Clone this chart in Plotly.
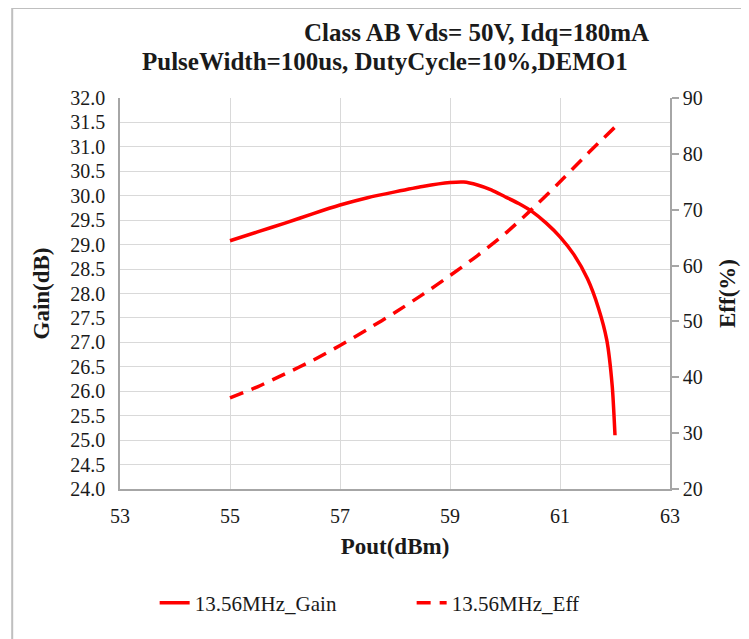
import plotly.graph_objects as go

# Data
gain_pout = [55.0, 55.5, 56.0, 56.5, 57.0, 57.5, 58.0, 58.5, 59.0, 59.25, 59.5, 59.75, 60.0, 60.25, 60.5, 60.75,
             61.0, 61.25, 61.5, 61.7, 61.85, 61.95, 62.0]
gain_db = [29.08, 29.26, 29.44, 29.63, 29.81, 29.96, 30.08, 30.19, 30.27, 30.28, 30.22, 30.12, 29.98, 29.84, 29.67, 29.44,
           29.16, 28.8, 28.3, 27.7, 27.05, 26.1, 25.1]

eff_pout = [55.0, 55.5, 56.0, 56.5, 57.0, 57.5, 58.0, 58.5, 59.0, 59.5, 60.0, 60.5, 61.0, 61.5, 62.0]
eff_pct = [36.3, 38.3, 40.6, 43.0, 45.7, 48.6, 51.6, 54.8, 58.2, 61.8, 65.7, 70.2, 75.0, 80.0, 84.8]

x_ticks = [53, 55, 57, 59, 61, 63]
gain_ticks = [24.0 + 0.5 * i for i in range(17)]
eff_ticks = [20, 30, 40, 50, 60, 70, 80, 90]

title_line1 = "Class AB Vds= 50V, Idq=180mA"
title_line2 = "PulseWidth=100us, DutyCycle=10%,DEMO1"

RED = "#ff0000"
SERIF = "Liberation Serif, Times New Roman, serif"
GRID = "#d9d9d9"
AXIS = "#a6a6a6"
TXT = "#1a1a1a"

fig = go.Figure()
fig.add_trace(go.Scatter(
    x=gain_pout, y=gain_db, name="13.56MHz_Gain", mode="lines",
    line=dict(color=RED, width=3.5, shape="spline", smoothing=0.6),
))
fig.add_trace(go.Scatter(
    x=eff_pout, y=eff_pct, name="13.56MHz_Eff", mode="lines", yaxis="y2",
    line=dict(color=RED, width=3.5, dash="14px,9px", shape="spline", smoothing=0.8),
))

fig.update_layout(
    width=749, height=639,
    margin=dict(l=112, r=87, t=90, b=158, autoexpand=False),
    paper_bgcolor="white", plot_bgcolor="white",
    font=dict(family=SERIF, color=TXT, size=20),
    showlegend=True,
    legend=dict(
        orientation="h", x=0.063, y=-0.2916, xanchor="left", yanchor="middle",
        font=dict(family=SERIF, size=21, color=TXT),
        entrywidth=212, entrywidthmode="pixels",
        bgcolor="rgba(0,0,0,0)",
    ),
    xaxis=dict(
        range=[53, 63], tickvals=x_ticks, ticktext=[str(v) for v in x_ticks],
        showgrid=True, gridcolor=GRID, gridwidth=1,
        showline=True, linecolor=AXIS, linewidth=1.5,
        zeroline=False, ticks="outside", ticklen=8, tickcolor="rgba(0,0,0,0)",
        tickfont=dict(family=SERIF, size=20, color=TXT),
        title=dict(text="<b>Pout(dBm)</b>", font=dict(family=SERIF, size=23, color=TXT), standoff=12),
    ),
    yaxis=dict(
        range=[24, 32], tickvals=gain_ticks, ticktext=[f"{v:.1f}" for v in gain_ticks],
        showgrid=True, gridcolor=GRID, gridwidth=1,
        showline=True, linecolor=AXIS, linewidth=1.5,
        zeroline=False, ticks="outside", ticklen=9, tickcolor="rgba(0,0,0,0)",
        tickfont=dict(family=SERIF, size=20, color=TXT),
        title=dict(text="<b>Gain(dB)</b>", font=dict(family=SERIF, size=23, color=TXT), standoff=14),
    ),
    yaxis2=dict(
        range=[20, 90], tickvals=eff_ticks, ticktext=[str(v) for v in eff_ticks],
        overlaying="y", side="right",
        showgrid=False, showline=True, linecolor=AXIS, linewidth=1.5,
        zeroline=False, ticks="outside", ticklen=7, tickcolor=AXIS, tickwidth=1.5,
        tickfont=dict(family=SERIF, size=20, color=TXT),
        title=dict(text="<b>Eff(%)</b>", font=dict(family=SERIF, size=23, color=TXT), standoff=17),
    ),
    annotations=[
        dict(text="<b>" + title_line1 + "</b>", xref="paper", yref="paper",
             x=0.648, y=(489 - 33) / 391, xanchor="center", yanchor="middle", showarrow=False,
             font=dict(family=SERIF, size=25, color=TXT)),
        dict(text="<b>" + title_line2 + "</b>", xref="paper", yref="paper",
             x=0.482, y=(489 - 61) / 391, xanchor="center", yanchor="middle", showarrow=False,
             font=dict(family=SERIF, size=25, color=TXT)),
    ],
    shapes=[
        dict(type="rect", xref="paper", yref="paper",
             x0=-0.196, x1=1.2, y0=-0.45, y1=1.230,
             line=dict(color="#bfbfbf", width=2), fillcolor="rgba(0,0,0,0)", layer="below"),
    ],
)

fig.write_html("out.html")
